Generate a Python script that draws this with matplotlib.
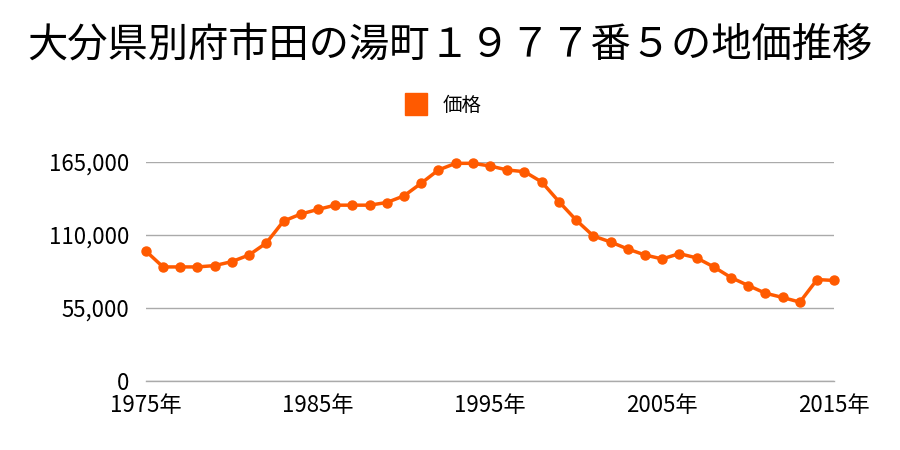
import matplotlib
matplotlib.use("Agg")
import matplotlib.pyplot as plt
from matplotlib.lines import Line2D

plt.rcParams['font.family'] = ['Noto Sans CJK JP', 'DejaVu Sans']

TITLE = "大分県別府市田の湯町１９７７番５の地価推移"
SERIES = "価格"
ORANGE = "#ff5a00"

years = list(range(1975, 2016))
prices = [
    98000, 86000, 86000, 86000, 87000, 90000, 95000, 104000, 120500, 125800,
    129300, 132500, 132500, 132500, 134500, 139500, 149000, 159000, 164000, 164000,
    162000, 159000, 157700, 150000, 135200, 121300, 109300, 104800, 99500, 95000,
    92000, 96000, 92800, 86000, 78000, 72000, 66200, 63000, 59500, 76500,
    75800,
]
yticks = [0, 55000, 110000, 165000]
xticks = [1975, 1985, 1995, 2005, 2015]

fig = plt.figure(figsize=(9, 4.5), dpi=100)
ax = fig.add_axes([0.162, 0.153, 0.765, 0.487])

ax.plot(years, prices, color=ORANGE, lw=2.5, marker="o", ms=6.5, zorder=3,
        clip_on=False)
ax.set_xlim(1975, 2015)
ax.set_ylim(0, 165000)
ax.set_yticks(yticks)
ax.set_yticklabels([f"{v:,}" for v in yticks], fontsize=16)
ax.set_xticks(xticks)
ax.set_xticklabels([f"{y}年" for y in xticks], fontsize=16)
ax.yaxis.grid(True, color="#aaaaaa", lw=1)
ax.axhline(0, color="#aaaaaa", lw=1, clip_on=False, zorder=1)
ax.tick_params(length=0)
ax.tick_params(axis="y", pad=12)
ax.tick_params(axis="x", pad=9)
for s in ax.spines.values():
    s.set_visible(False)

fig.text(0.5, 0.9, TITLE, ha="center", va="center", fontsize=29)
handle = Line2D([], [], color=ORANGE, marker="s", ls="none", ms=16)
fig.legend([handle], [SERIES], loc="center", bbox_to_anchor=(0.488, 0.766),
           frameon=False, fontsize=14, handletextpad=0.4)

fig.savefig("out.png", dpi=100, facecolor="white")
